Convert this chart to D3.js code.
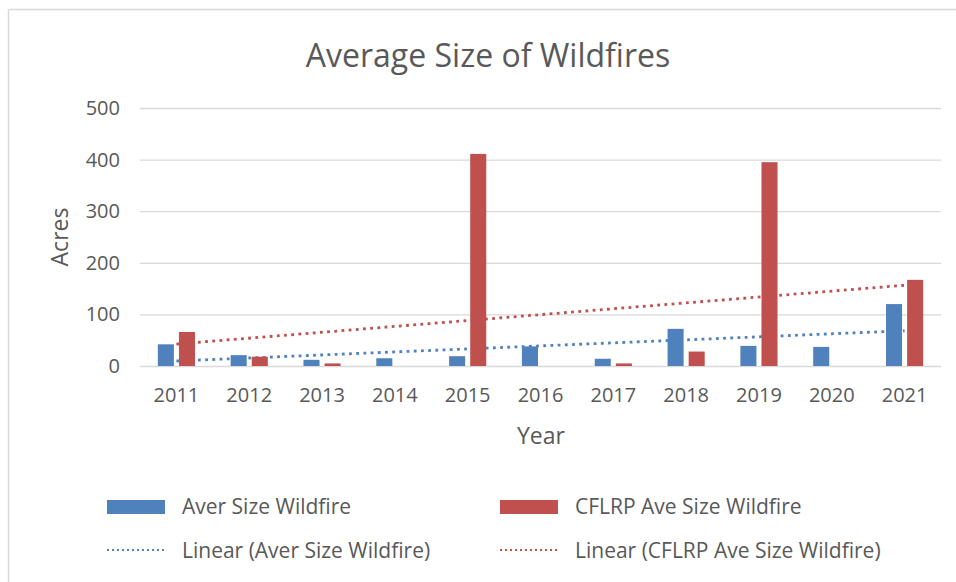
<!DOCTYPE html>
<html>
<head>
<meta charset="utf-8">
<script src="https://cdn.jsdelivr.net/npm/d3@7"></script>
<style>
  html, body { margin: 0; padding: 0; background: #fff; }
  svg { display: block; font-family: "Open Sans", "Noto Sans", sans-serif; }
</style>
</head>
<body>
<svg id="chart" width="956" height="582"></svg>
<script>
// Average wildfire size per year (acres)
const years = ["2011", "2012", "2013", "2014", "2015", "2016", "2017", "2018", "2019", "2020", "2021"];
const averSize = [42, 21, 12, 15, 19, 38, 14, 72, 39, 37, 120];
const cflrpSize = [66, 18, 5, 0, 411, 0, 5, 28, 395, 0, 167];
const yTicks = [0, 100, 200, 300, 400, 500];
const seriesNames = ["Aver Size Wildfire", "CFLRP Ave Size Wildfire"];
const colors = ["#4F81BD", "#C0504D"];

const svg = d3.select("#chart");
const textColor = "#595959";
const gridColor = "#d9d9d9";

// outer frame
svg.append("line").attr("x1", 8.5).attr("x2", 956).attr("y1", 9.5).attr("y2", 9.5)
  .attr("stroke", "#d9d9d9").attr("stroke-width", 1.5);
svg.append("line").attr("x1", 8.5).attr("x2", 8.5).attr("y1", 9.5).attr("y2", 582)
  .attr("stroke", "#d9d9d9").attr("stroke-width", 1.5);

const x = d3.scaleBand().domain(years).range([140, 941]).paddingInner(0.49).paddingOuter(0.245);
const xSub = d3.scaleBand().domain([0, 1]).range([0, x.bandwidth()]).paddingInner(0.24);
const y = d3.scaleLinear().domain([0, 500]).range([366, 108]);

// title
svg.append("text").attr("x", 488).attr("y", 67).attr("text-anchor", "middle")
  .attr("fill", textColor).attr("font-size", 32).text("Average Size of Wildfires");

// gridlines and y tick labels
const yAxis = d3.axisLeft(y).tickValues(yTicks).tickSize(-(941 - 140)).tickPadding(20);
const gy = svg.append("g").attr("transform", "translate(140,0)").call(yAxis);
gy.select(".domain").remove();
gy.selectAll(".tick line").attr("stroke", gridColor).attr("stroke-width", 1.3);
gy.selectAll(".tick text").attr("fill", textColor).attr("font-size", 20)
  .attr("font-family", "Open Sans, sans-serif");

// x tick labels
const xAxis = d3.axisBottom(x).tickSize(0).tickPadding(22);
const gx = svg.append("g").attr("transform", "translate(0,366)").call(xAxis);
gx.select(".domain").remove();
gx.selectAll(".tick text").attr("fill", textColor).attr("font-size", 20)
  .attr("font-family", "Open Sans, sans-serif");

// axis titles
svg.append("text").attr("x", 541).attr("y", 444).attr("text-anchor", "middle")
  .attr("fill", textColor).attr("font-size", 23).text("Year");
svg.append("text").attr("transform", "translate(68,237) rotate(-90)").attr("text-anchor", "middle")
  .attr("fill", textColor).attr("font-size", 23).text("Acres");

// linear trendlines (least squares fit over year index)
const dataSets = [averSize, cflrpSize];
function fit(vals) {
  const n = vals.length;
  const xs = d3.range(n);
  const mx = d3.mean(xs), my = d3.mean(vals);
  const sxy = d3.sum(xs, (i) => (i - mx) * (vals[i] - my));
  const sxx = d3.sum(xs, (i) => (i - mx) * (i - mx));
  const b = sxy / sxx;
  return (i) => my + b * (i - mx);
}
const center = (yr) => x(yr) + x.bandwidth() / 2;
dataSets.forEach((vals, s) => {
  const f = fit(vals);
  const pts = years.map((yr, i) => [center(yr), y(f(i))]);
  svg.append("path")
    .attr("d", d3.line()([pts[0], pts[pts.length - 1]]))
    .attr("fill", "none").attr("stroke", colors[s]).attr("stroke-width", 2.8)
    .attr("stroke-dasharray", "2.8,4.4");
});

// clustered bars
dataSets.forEach((vals, s) => {
  svg.append("g").selectAll("rect").data(years.map((yr, i) => ({ yr, v: vals[i] })))
    .join("rect")
    .attr("x", (d) => x(d.yr) + xSub(s))
    .attr("width", xSub.bandwidth())
    .attr("y", (d) => y(d.v))
    .attr("height", (d) => y(0) - y(d.v))
    .attr("fill", colors[s]);
});

// legend
const legendCols = [107, 500];
const legend = svg.append("g");
seriesNames.forEach((name, s) => {
  const lx = legendCols[s];
  legend.append("rect").attr("x", lx).attr("y", 500).attr("width", 58).attr("height", 14)
    .attr("fill", colors[s]);
  legend.append("text").attr("x", lx + 75).attr("y", 514).attr("fill", textColor)
    .attr("font-size", 21).text(name);
  legend.append("line").attr("x1", lx).attr("x2", lx + 58).attr("y1", 550).attr("y2", 550)
    .attr("stroke", colors[s]).attr("stroke-width", 2.2).attr("stroke-dasharray", "2,3");
  legend.append("text").attr("x", lx + 75).attr("y", 558).attr("fill", textColor)
    .attr("font-size", 21).text("Linear (" + name + ")");
});
</script>
</body>
</html>
